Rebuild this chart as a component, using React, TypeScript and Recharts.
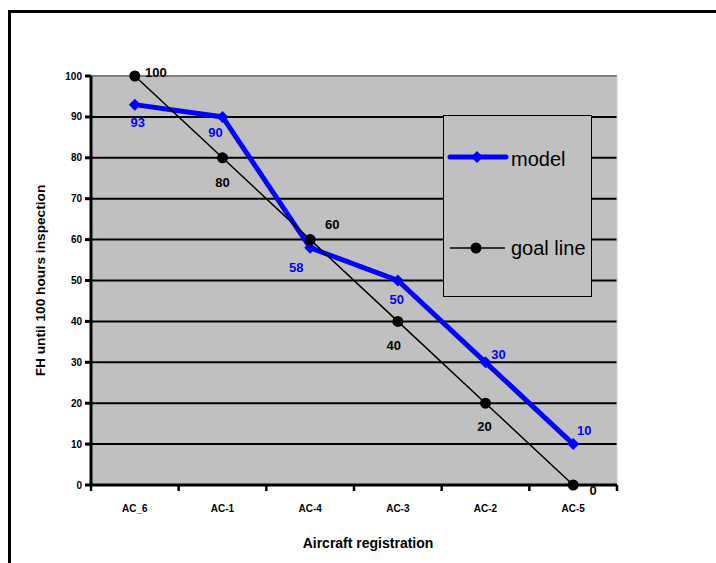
import React from 'react';
import {
  ComposedChart,
  Line,
  XAxis,
  YAxis,
  CartesianGrid,
  Legend,
  LabelList,
} from 'recharts';

const categories = ['AC_6', 'AC-1', 'AC-4', 'AC-3', 'AC-2', 'AC-5'];
const modelValues = [93, 90, 58, 50, 30, 10];
const goalValues = [100, 80, 60, 40, 20, 0];
const yTicks = [0, 10, 20, 30, 40, 50, 60, 70, 80, 90, 100];

// label placement offsets (dx, dy) relative to each point
const modelLabelOffsets = [[3, 18], [-7, 16], [-14, 20], [-1, 19], [13, -8], [11, -14]];
const goalLabelOffsets = [[21, -4], [0, 25], [22, -15], [-4, 24], [-1, 23], [20, 5]];

const data = categories.map((name, i) => ({
  name,
  model: modelValues[i],
  goal: goalValues[i],
}));

const W = 716;
const H = 563;
const PLOT_LEFT = 91;
const PLOT_RIGHT = 617;
const PLOT_TOP = 76;
const PLOT_BOTTOM = 485;
const PLOT_W = PLOT_RIGHT - PLOT_LEFT;
const HALF_BAND = PLOT_W / categories.length / 2;

const FONT = '"Liberation Sans", Arial, Helvetica, sans-serif';
const BLUE = '#0000ff';
const GREY_BG = '#c0c0c0';

const Diamond = (props: any) => {
  const { cx, cy } = props;
  if (cx == null || cy == null) return null;
  const s = 6;
  return (
    <path
      d={`M${cx},${cy - s}L${cx + s},${cy}L${cx},${cy + s}L${cx - s},${cy}Z`}
      fill={BLUE}
      stroke="none"
    />
  );
};

const Dot = (props: any) => {
  const { cx, cy } = props;
  if (cx == null || cy == null) return null;
  return <circle cx={cx} cy={cy} r={5.5} fill="#000" stroke="none" />;
};

const makeLabel = (offsets: number[][], color: string) => (props: any) => {
  const { x, y, value, index } = props;
  const off = offsets[index] || [0, 0];
  return (
    <text
      x={x + off[0]}
      y={y + off[1]}
      textAnchor="middle"
      dominantBaseline="central"
      fontFamily={FONT}
      fontWeight="bold"
      fontSize={13}
      fill={color}
    >
      {value}
    </text>
  );
};

const XTick = (props: any) => {
  const { x, payload, index } = props;
  const isLast = index === categories.length - 1;
  return (
    <g>
      <line x1={x - HALF_BAND} x2={x - HALF_BAND} y1={PLOT_BOTTOM} y2={PLOT_BOTTOM + 6} stroke="#000" strokeWidth={2.5} />
      {isLast && (
        <line x1={x + HALF_BAND} x2={x + HALF_BAND} y1={PLOT_BOTTOM} y2={PLOT_BOTTOM + 6} stroke="#000" strokeWidth={2.5} />
      )}
      <text
        x={x}
        y={PLOT_BOTTOM + 23}
        textAnchor="middle"
        dominantBaseline="central"
        fontFamily={FONT}
        fontWeight="bold"
        fontSize={10}
        fill="#000"
      >
        {payload.value}
      </text>
    </g>
  );
};

const horizontalLine = (props: any) => {
  const { x1, x2, y1, y2, index } = props;
  const isTop = Math.abs(y1 - PLOT_TOP) < 1;
  return (
    <line
      key={`h-${index}`}
      x1={x1}
      x2={x2}
      y1={y1}
      y2={y2}
      stroke={isTop ? '#808080' : '#000'}
      strokeWidth={2}
    />
  );
};

const renderLegend = (props: any) => {
  const payload = props.payload || [];
  return (
    <div
      style={{
        width: 149,
        height: 182,
        background: GREY_BG,
        border: '1px solid #000',
        boxSizing: 'border-box',
      }}
    >
      <svg width={147} height={180} style={{ display: 'block' }}>
        {payload.map((entry: any, i: number) => {
          const isModel = entry.dataKey === 'model';
          const ly = isModel ? 41 : 132;
          const ty = isModel ? 50 : 139;
          return (
            <g key={`leg-${i}`}>
              {isModel ? (
                <>
                  <line x1={6} x2={62} y1={ly} y2={ly} stroke={BLUE} strokeWidth={5} strokeLinecap="round" />
                  <path d={`M33,${ly - 6}L39,${ly}L33,${ly + 6}L27,${ly}Z`} fill={BLUE} />
                </>
              ) : (
                <>
                  <line x1={6} x2={61} y1={ly} y2={ly} stroke="#000" strokeWidth={1.5} />
                  <circle cx={32} cy={ly} r={5.5} fill="#000" />
                </>
              )}
              <text x={67} y={ty} fontFamily={FONT} fontSize={20} fill="#000">
                {entry.value}
              </text>
            </g>
          );
        })}
      </svg>
    </div>
  );
};

export default function App() {
  return (
    <div style={{ position: 'absolute', left: 0, top: 0, width: W, height: H, overflow: 'hidden', background: '#fff' }}>
      <div
        style={{
          position: 'absolute',
          left: 8,
          top: 10,
          width: 800,
          height: 700,
          border: '3px solid #000',
        }}
      />
      <div style={{ position: 'absolute', left: 0, top: 0 }}>
        <ComposedChart
          width={W}
          height={H}
          data={data}
          margin={{ top: PLOT_TOP, right: W - PLOT_RIGHT, bottom: 0, left: 0 }}
        >
          <CartesianGrid
            fill={GREY_BG}
            fillOpacity={1}
            horizontal={horizontalLine}
            vertical={{ stroke: '#808080', strokeWidth: 2 }}
            verticalPoints={[PLOT_RIGHT]}
          />
          <XAxis
            dataKey="name"
            scale="band"
            height={H - PLOT_BOTTOM}
            axisLine={{ stroke: '#000', strokeWidth: 3 }}
            tickLine={false}
            tick={<XTick />}
            interval={0}
            label={{
              content: () => (
                <text
                  x={368}
                  y={543}
                  textAnchor="middle"
                  dominantBaseline="central"
                  fontFamily={FONT}
                  fontWeight="bold"
                  fontSize={14}
                  fill="#000"
                >
                  Aircraft registration
                </text>
              ),
            }}
          />
          <YAxis
            width={PLOT_LEFT}
            domain={[0, 100]}
            ticks={yTicks}
            interval={0}
            axisLine={{ stroke: '#000', strokeWidth: 3 }}
            tickLine={{ stroke: '#000', strokeWidth: 3 }}
            tickSize={6}
            tickMargin={3}
            tick={{ fontFamily: FONT, fontWeight: 'bold', fontSize: 10, fill: '#000' }}
            label={{
              content: () => (
                <text
                  x={40}
                  y={(PLOT_TOP + PLOT_BOTTOM) / 2}
                  textAnchor="middle"
                  dominantBaseline="central"
                  fontFamily={FONT}
                  fontWeight="bold"
                  fontSize={13.7}
                  fill="#000"
                  transform={`rotate(-90, 40, ${(PLOT_TOP + PLOT_BOTTOM) / 2})`}
                >
                  FH until 100 hours inspection
                </text>
              ),
            }}
          />
          <Legend
            layout="horizontal"
            verticalAlign="middle"
            align="center"
            width={149}
            height={182}
            wrapperStyle={{ left: 443, top: 115, width: 149, height: 182 }}
            content={renderLegend}
          />
          <Line
            dataKey="model"
            name="model"
            stroke={BLUE}
            strokeWidth={5}
            dot={<Diamond />}
            activeDot={false}
            isAnimationActive={false}
          >
            <LabelList dataKey="model" content={makeLabel(modelLabelOffsets, BLUE)} />
          </Line>
          <Line
            dataKey="goal"
            name="goal line"
            stroke="#000"
            strokeWidth={1.5}
            dot={<Dot />}
            activeDot={false}
            isAnimationActive={false}
          >
            <LabelList dataKey="goal" content={makeLabel(goalLabelOffsets, '#000')} />
          </Line>
        </ComposedChart>
      </div>
    </div>
  );
}
